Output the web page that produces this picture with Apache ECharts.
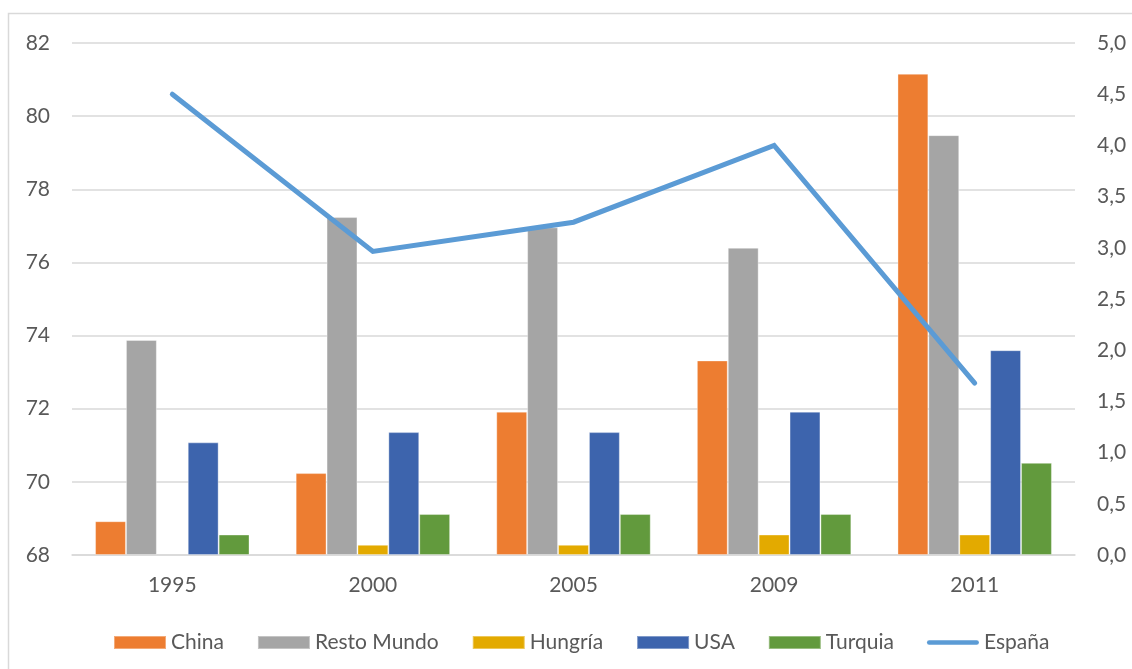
<!DOCTYPE html>
<html>
<head>
<meta charset="utf-8">
<script src="https://cdn.jsdelivr.net/npm/echarts@6/dist/echarts.min.js"></script>
<style>
  html, body { margin: 0; padding: 0; background: #fff; }
  #chart { width: 1132px; height: 669px; }
</style>
</head>
<body>
<div id="chart"></div>
<script>
// categories
var years = ['1995', '2000', '2005', '2009', '2011'];
// bar series (right axis)
var china = [0.33, 0.8, 1.4, 1.9, 4.7];
var restoMundo = [2.1, 3.3, 3.2, 3.0, 4.1];
var hungria = ['-', 0.1, 0.1, 0.2, 0.2];
var usa = [1.1, 1.2, 1.2, 1.4, 2.0];
var turquia = [0.2, 0.4, 0.4, 0.4, 0.9];
// line series (left axis)
var espana = [80.6, 76.3, 77.1, 79.2, 72.7];

var font = 'Lato, "Liberation Sans", sans-serif';
var textColor = '#595959';
var gridColor = '#d9d9d9';

var chart = echarts.init(document.getElementById('chart'));

function bar(name, data, color) {
  return {
    name: name,
    type: 'bar',
    yAxisIndex: 1,
    data: data,
    barGap: '0%',
    barCategoryGap: '23%',
    itemStyle: { color: color, borderColor: 'rgba(255,255,255,0.35)', borderWidth: 1 }
  };
}

chart.setOption({
  animation: false,
  textStyle: { fontFamily: font },
  graphic: [{
    type: 'rect',
    shape: { x: 8.5, y: 13.5, width: 1140, height: 700 },
    style: { fill: 'none', stroke: gridColor, lineWidth: 1.5 },
    silent: true
  }],
  grid: { left: 72, right: 57, top: 43, bottom: 114, outerBoundsMode: 'none' },
  legend: {
    left: 108,
    top: 627,
    itemWidth: 52,
    itemHeight: 13,
    itemGap: 33,
    textStyle: { color: textColor, fontSize: 21, fontFamily: font },
    data: [
      { name: 'China', icon: 'rect' },
      { name: 'Resto Mundo', icon: 'rect' },
      { name: 'Hungría', icon: 'rect' },
      { name: 'USA', icon: 'rect' },
      { name: 'Turquia', icon: 'rect' },
      { name: 'España', icon: 'path://M2.5,0 L54.5,0 A2.5,2.5 0 0 1 54.5,5 L2.5,5 A2.5,2.5 0 0 1 2.5,0 Z' }
    ]
  },
  xAxis: {
    type: 'category',
    data: years,
    axisLine: { lineStyle: { color: gridColor, width: 1.5 } },
    axisTick: { show: false },
    axisLabel: { color: textColor, fontSize: 21, margin: 20 }
  },
  yAxis: [{
    type: 'value',
    min: 68,
    max: 82,
    interval: 2,
    axisLine: { show: false },
    axisTick: { show: false },
    axisLabel: { color: textColor, fontSize: 21, margin: 22 },
    splitLine: { lineStyle: { color: gridColor, width: 1.5 } }
  }, {
    type: 'value',
    min: 0,
    max: 5,
    interval: 0.5,
    axisLine: { show: false },
    axisTick: { show: false },
    axisLabel: {
      color: textColor, fontSize: 21, margin: 22,
      formatter: function (v) { return v.toFixed(1).replace('.', ','); }
    },
    splitLine: { show: false }
  }],
  series: [
    bar('China', china, '#ed7d31'),
    bar('Resto Mundo', restoMundo, '#a5a5a5'),
    bar('Hungría', hungria, '#e3aa00'),
    bar('USA', usa, '#3d64ad'),
    bar('Turquia', turquia, '#629a3d'),
    {
      name: 'España',
      type: 'line',
      yAxisIndex: 0,
      data: espana,
      symbol: 'none',
      itemStyle: { color: '#5b9bd5' },
      lineStyle: { color: '#5b9bd5', width: 5, cap: 'round', join: 'miter' }
    }
  ]
});
</script>
</body>
</html>
